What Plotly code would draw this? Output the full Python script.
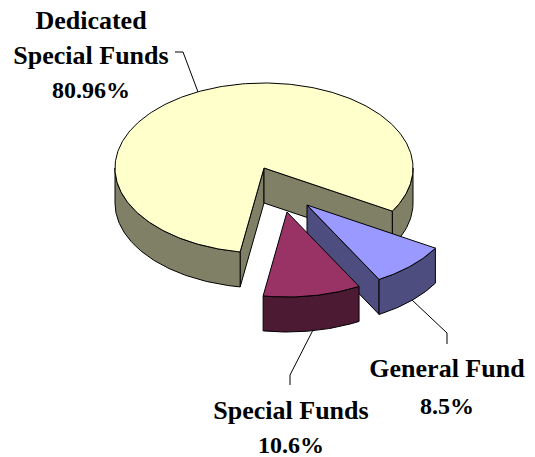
import math
import plotly.graph_objects as go

# Data
categories = ["General Fund", "Special Funds", "Dedicated Special Funds"]
values = [8.5, 10.6, 80.96]
value_labels = ["8.5%", "10.6%", "80.96%"]

# Style / projection
top_colors = ["#9999FF", "#993366", "#FFFFCC"]
side_colors = ["#4D4D80", "#4D1A33", "#808066"]
explode = [(43, 37), (23, 44), (0, 0)]
CX, CY, RX, RY, DEPTH = 264, 168, 149, 85, 35
START = 30.5
W, H = 535, 457

total = sum(values)
spans = []
a = START
for v in values:
    b = a + v / total * 360
    spans.append((a, b))
    a = b


def arc(a0, a1, ox, oy, dz=0, n=None):
    n = n or max(2, int(abs(a1 - a0)) + 1)
    xs, ys = [], []
    for i in range(n + 1):
        t = math.radians(a0 + (a1 - a0) * i / n)
        xs.append(CX + ox + RX * math.cos(t))
        ys.append(CY + oy + RY * math.sin(t) + dz)
    return xs, ys


fig = go.Figure()


def poly(xs, ys, color):
    fig.add_trace(go.Scatter(
        x=xs + xs[:1], y=ys + ys[:1], mode="lines", fill="toself",
        fillcolor=color, line=dict(color="#000000", width=1),
        hoverinfo="skip", showlegend=False))


def outer_wall(a0, a1, ox, oy, color):
    x0, y0 = arc(a0, a1, ox, oy)
    x1, y1 = arc(a0, a1, ox, oy, DEPTH)
    poly(x0 + x1[::-1], y0 + y1[::-1], color)


def cut_wall(ang, ox, oy, color):
    xe, ye = arc(ang, ang, ox, oy, 0, 1)
    ax, ay = CX + ox, CY + oy
    poly([ax, xe[0], xe[0], ax], [ay, ye[0], ye[0] + DEPTH, ay + DEPTH], color)


def top_face(a0, a1, ox, oy, color):
    xs, ys = arc(a0, a1, ox, oy)
    poly([CX + ox] + xs, [CY + oy] + ys, color)


# Main slice
a0, a1 = spans[2]
ox, oy = explode[2]
cut_wall(a0, ox, oy, side_colors[2])
cut_wall(a1 - 360, ox, oy, side_colors[2])
outer_wall(a0, 180, ox, oy, side_colors[2])
outer_wall(360, a1, ox, oy, side_colors[2])
top_face(a0, a1, ox, oy, top_colors[2])

# General Fund
a0, a1 = spans[0]
ox, oy = explode[0]
cut_wall(a1, ox, oy, side_colors[0])
outer_wall(a0, a1, ox, oy, side_colors[0])
top_face(a0, a1, ox, oy, top_colors[0])

# Special Funds
a0, a1 = spans[1]
ox, oy = explode[1]
outer_wall(a0, a1, ox, oy, side_colors[1])
top_face(a0, a1, ox, oy, top_colors[1])

# Leader lines
leaders = [
    ([412, 447, 447], [300, 333, 344]),
    ([313, 290, 290], [330, 375, 385]),
    ([175, 183, 198], [52, 52, 92]),
]
for lx, ly in leaders:
    fig.add_trace(go.Scatter(x=lx, y=ly, mode="lines",
                             line=dict(color="#000000", width=1),
                             hoverinfo="skip", showlegend=False))

# Labels
label_lines = [
    (["General Fund", value_labels[0]], 447, [370, 408], [26, 24]),
    (["Special Funds", value_labels[1]], 291, [412, 447], [26, 24]),
    (["Dedicated", "Special Funds", value_labels[2]], 91, [22, 57, 92], [26, 26, 24]),
]
for lines, x, ys, sizes in label_lines:
    fig.add_trace(go.Scatter(
        x=[x] * len(lines), y=ys, text=[f"<b>{s}</b>" for s in lines],
        mode="text", textposition="middle center",
        textfont=dict(family="Liberation Serif", size=sizes, color="#000000"),
        hoverinfo="skip", showlegend=False, cliponaxis=False))

fig.update_layout(
    width=W, height=H, margin=dict(l=0, r=0, t=0, b=0),
    paper_bgcolor="#FFFFFF", plot_bgcolor="#FFFFFF", showlegend=False,
    xaxis=dict(range=[0, W], visible=False, fixedrange=True),
    yaxis=dict(range=[H, 0], visible=False, fixedrange=True),
)
fig.write_html("out.html", config={"displayModeBar": False},
               post_script="document.body.style.margin='0';document.documentElement.style.overflow='hidden';")
